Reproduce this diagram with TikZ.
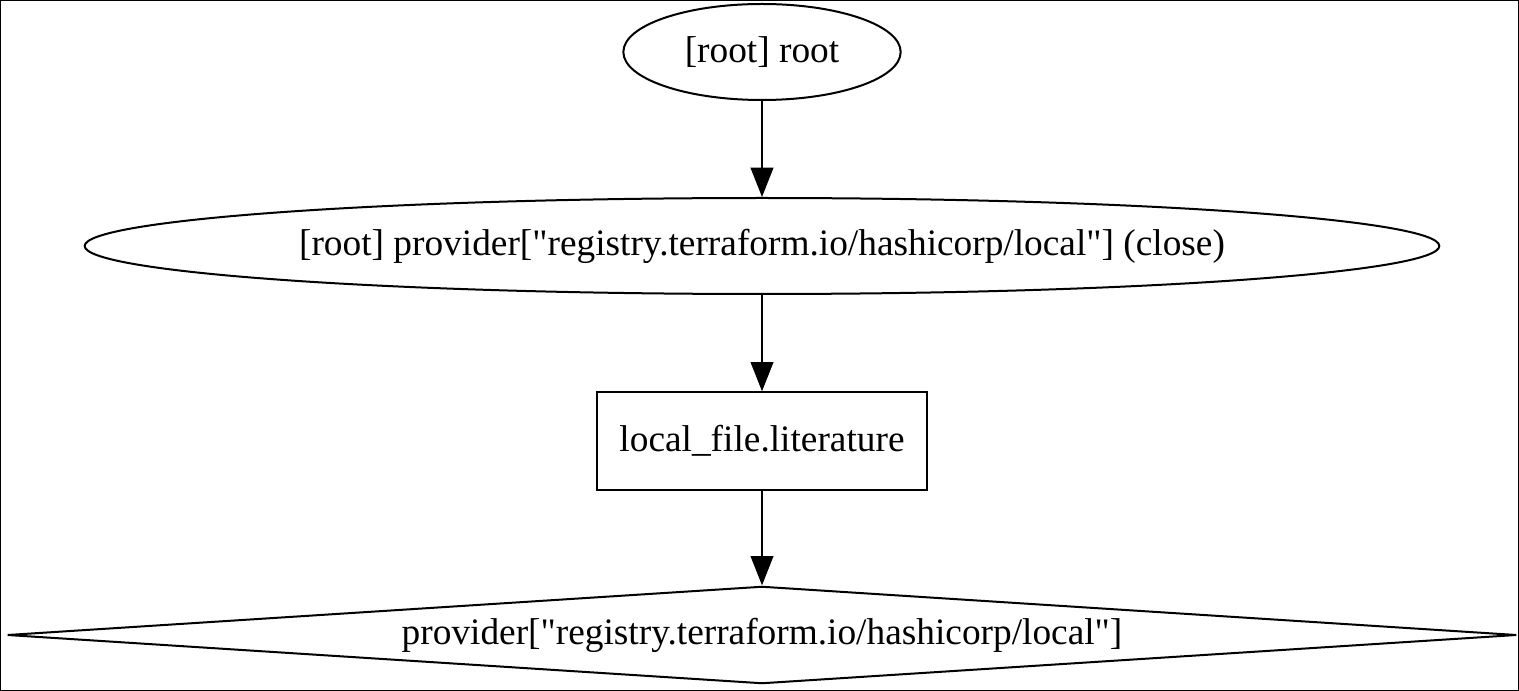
\documentclass[tikz,border=0pt]{standalone}
\usepackage{fontspec}
\setmainfont{Liberation Serif}
\usetikzlibrary{shapes.geometric,arrows.meta}
\newcommand{\regname}{\textquotedbl registry.terraform.io/hashicorp/local\textquotedbl}
\begin{document}
\begin{tikzpicture}[x=0.75pt,y=-0.75pt,
    every node/.style={thick,draw,line width=1.5pt,inner sep=0pt,
        font=\fontsize{28}{34}\selectfont},
    oval/.style={ellipse},
    resource/.style={rectangle},
    provider/.style={diamond,aspect=15.5}]
    \useasboundingbox (0,0) rectangle (1519,691);
    \draw[line width=0.75pt] (0.5,0.5) rectangle (1518.5,690.5);
    \node[oval,minimum width=208pt,minimum height=72pt] (root) at (762,52) {[root] root};
    \node[oval,minimum width=1016pt,minimum height=72pt] (close) at (762,246)
        {[root] provider[\regname] (close)};
    \node[resource,minimum width=248pt,minimum height=73pt] (file) at (762,441)
        {local\_file.literature};
    \node[provider,minimum width=1132pt,minimum height=73pt] (local) at (762,635)
        {provider[\regname]};
    \begin{scope}[every path/.style={line width=1.5pt,-{Triangle[length=22pt,width=17pt]}}]
        \path
            (root) edge (close)
            (close) edge (file)
            (file) edge (local);
    \end{scope}
\end{tikzpicture}
\end{document}
